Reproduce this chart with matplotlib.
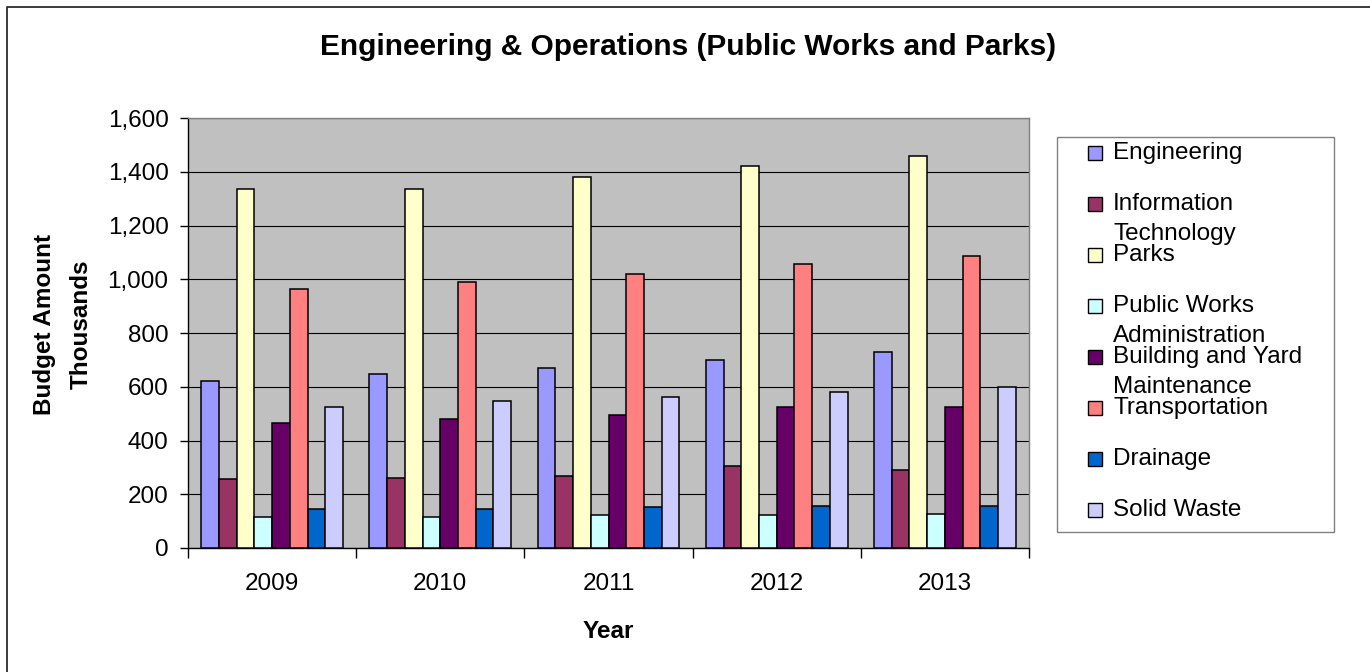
import textwrap

import matplotlib
matplotlib.use('Agg')
import matplotlib.pyplot as plt
import numpy as np
from matplotlib.lines import Line2D
from matplotlib.patches import Rectangle
from matplotlib.ticker import FixedLocator, StrMethodFormatter

# budget per division, thousands of dollars
years = ['2009', '2010', '2011', '2012', '2013']
divisions = ['Engineering', 'Information Technology', 'Parks',
             'Public Works Administration', 'Building and Yard Maintenance',
             'Transportation', 'Drainage', 'Solid Waste']

engineering = [620, 648, 671, 700, 729]
info_tech = [255, 261, 268, 304, 291]
parks = [1336, 1336, 1380, 1423, 1460]
pw_admin = [114, 114, 122, 122, 128]
building_yard = [466, 479, 496, 525, 525]
transportation = [963, 991, 1021, 1058, 1088]
drainage = [144, 144, 152, 158, 158]
solid_waste = [525, 547, 561, 581, 598]

series = [engineering, info_tech, parks, pw_admin, building_yard,
          transportation, drainage, solid_waste]
colors = ['#9999FF', '#993366', '#FFFFCC', '#CCFFFF',
          '#660066', '#FF8080', '#0066CC', '#CCCCFF']

plt.rcParams['font.family'] = ['Liberation Sans', 'DejaVu Sans']

W, H = 1370, 672
fig = plt.figure(figsize=(W / 100, H / 100), dpi=100)
fig.patch.set_facecolor('white')


def fx(px):
    return px / W


def fy(py):
    return 1 - py / H


# plot area in pixel terms
left, right, top, bottom = 188, 1029, 118, 548
ax = fig.add_axes([fx(left), fy(bottom), fx(right - left), (bottom - top) / H])
ax.set_facecolor('#C0C0C0')

n = len(series)
bar_w = 1 / (n + 1.5)  # excel style gap width 150%
x = np.arange(len(years))
for i, (vals, c) in enumerate(zip(series, colors)):
    offs = -0.5 + 0.75 * bar_w + (i + 0.5) * bar_w
    ax.bar(x + offs, vals, width=bar_w, color=c, edgecolor='black',
           linewidth=1.1, zorder=3)

ax.set_xlim(-0.5, len(years) - 0.5)
ax.set_ylim(0, 1600)
ax.yaxis.set_major_locator(FixedLocator(np.arange(0, 1601, 200)))
ax.yaxis.set_major_formatter(StrMethodFormatter('{x:,.0f}'))
ax.grid(axis='y', color='black', linewidth=0.8, zorder=1)
ax.set_axisbelow(True)

ax.set_xticks(x)
ax.set_xticklabels(years)
ax.set_xticks(np.arange(-0.5, len(years)), minor=True)
ax.tick_params(axis='x', which='major', length=0, pad=18, labelsize=17.5)
ax.tick_params(axis='x', which='minor', length=7, width=1, color='black')
ax.tick_params(axis='y', length=6, width=1, pad=8, labelsize=17.5)

for s in ['left', 'bottom']:
    ax.spines[s].set_color('black')
    ax.spines[s].set_linewidth(1)
for s in ['top', 'right']:
    ax.spines[s].set_color('#808080')
    ax.spines[s].set_linewidth(1)

ax.set_xlabel('Year', fontsize=17.5, fontweight='bold')
ax.xaxis.set_label_coords(0.5, -0.168)
ax.set_ylabel('Budget Amount\nThousands', fontsize=17.5, fontweight='bold',
              linespacing=1.8)
ax.yaxis.set_label_coords(-0.113, 0.52)

fig.text(fx(688), fy(47), 'Engineering & Operations (Public Works and Parks)',
         fontsize=21.5, fontweight='bold', ha='center', va='center')

# legend box drawn by hand so wrapped names line up like the original
fig.add_artist(Rectangle((fx(1057), fy(532)), fx(1334 - 1057), (532 - 137) / H,
                         transform=fig.transFigure, facecolor='white',
                         edgecolor='#808080', linewidth=1))
for i, (name, c) in enumerate(zip(divisions, colors)):
    yc = 153 + 51 * i
    fig.add_artist(Rectangle((fx(1088), fy(yc + 7)), fx(14), 14 / H,
                             transform=fig.transFigure, facecolor=c,
                             edgecolor='black', linewidth=1))
    for k, line in enumerate(textwrap.fill(name, 18).split('\n')):
        fig.text(fx(1113), fy(yc + 30 * k), line, fontsize=17.5,
                 ha='left', va='center')

# chart frame (left and top edges)
fig.add_artist(Line2D([fx(7), fx(7), fx(W + 5)], [fy(H + 5), fy(6.5), fy(6.5)],
                      transform=fig.transFigure, color='#2b2b2b', linewidth=1.3))

fig.savefig('out.png', dpi=100)
